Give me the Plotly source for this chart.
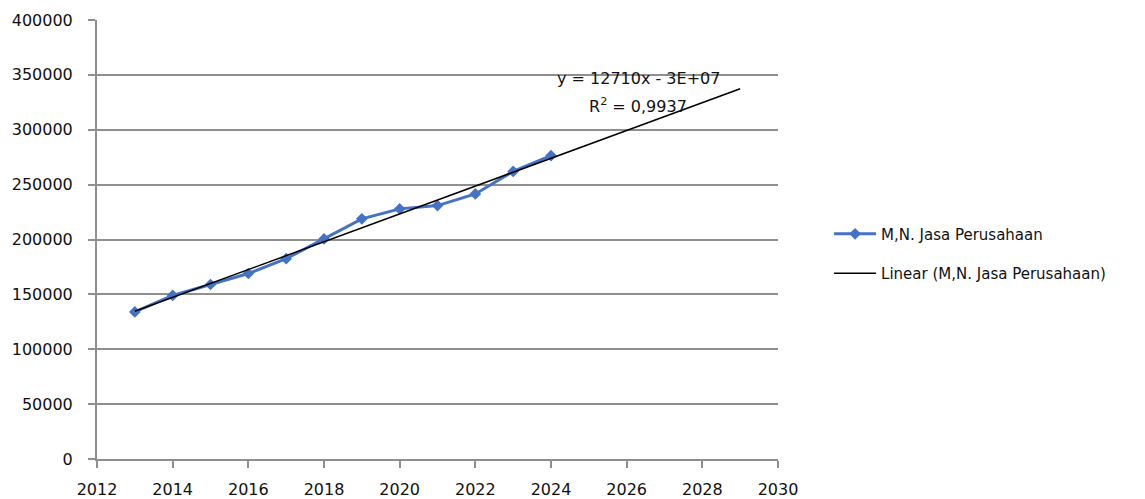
import numpy as np
import plotly.graph_objects as go

years = [2013, 2014, 2015, 2016, 2017, 2018, 2019, 2020, 2021, 2022, 2023, 2024]
values = [134000, 149000, 159000, 169000, 182500, 200500, 218800, 227900, 230900, 241500, 262000, 276400]
series_name = "M,N. Jasa Perusahaan"
trend_name = "Linear (M,N. Jasa Perusahaan)"
trend_years = [2013, 2029]
equation_line = "y = 12710x - 3E+07"
r2_line = "R<sup>2</sup> = 0,9937"
x_ticks = [2012, 2014, 2016, 2018, 2020, 2022, 2024, 2026, 2028, 2030]
y_ticks = [0, 50000, 100000, 150000, 200000, 250000, 300000, 350000, 400000]

slope, intercept = np.polyfit(years, values, 1)
trend_vals = [slope * x + intercept for x in trend_years]

FONT = "DejaVu Sans"
GRID = "#8f8f8f"

fig = go.Figure()
fig.add_trace(go.Scatter(
    x=years, y=values, mode="lines+markers", name=series_name,
    line=dict(color="#4472C4", width=3),
    marker=dict(symbol="diamond", size=9, color="#4472C4"),
    legendgroup="a",
))
fig.add_trace(go.Scatter(
    x=trend_years, y=trend_vals, mode="lines", name=trend_name,
    line=dict(color="#000000", width=1.5),
    legendgroup="b",
))

fig.add_annotation(
    x=2026.3, y=346500, xref="x", yref="y", text=equation_line,
    showarrow=False, align="center", font=dict(family=FONT, size=16, color="#111"),
)
fig.add_annotation(
    x=2026.3, y=322000, xref="x", yref="y", text=r2_line,
    showarrow=False, align="center", font=dict(family=FONT, size=16, color="#111"),
)

fig.update_layout(
    width=1145, height=499,
    margin=dict(l=97, r=367, t=20, b=40),
    paper_bgcolor="white", plot_bgcolor="white",
    font=dict(family=FONT, size=16, color="#111"),
    showlegend=True,
    legend=dict(x=1.075, y=0.468, xanchor="left", yanchor="middle",
                traceorder="grouped", tracegroupgap=17,
                font=dict(family=FONT, size=15, color="#111"),
                bgcolor="rgba(0,0,0,0)", itemwidth=42),
    xaxis=dict(range=[2012, 2030], tickvals=x_ticks, showgrid=False,
               showline=True, linecolor=GRID, linewidth=2,
               ticks="outside", ticklen=7, tickcolor=GRID, tickwidth=2,
               zeroline=False, automargin=False, ticklabelstandoff=8,
               tickfont=dict(family=FONT, size=16)),
    yaxis=dict(range=[0, 400000], tickvals=y_ticks, showgrid=True,
               gridcolor=GRID, gridwidth=2, showline=True, linecolor=GRID,
               linewidth=2, ticks="outside", ticklen=7, tickcolor=GRID,
               tickwidth=2, zeroline=False, tickformat="d", automargin=False,
               ticklabelstandoff=12,
               tickfont=dict(family=FONT, size=16)),
)

fig.write_html(
    "out.html",
    config={"displayModeBar": False},
    post_script="document.body.style.margin='0';document.body.style.overflow='hidden';",
)
